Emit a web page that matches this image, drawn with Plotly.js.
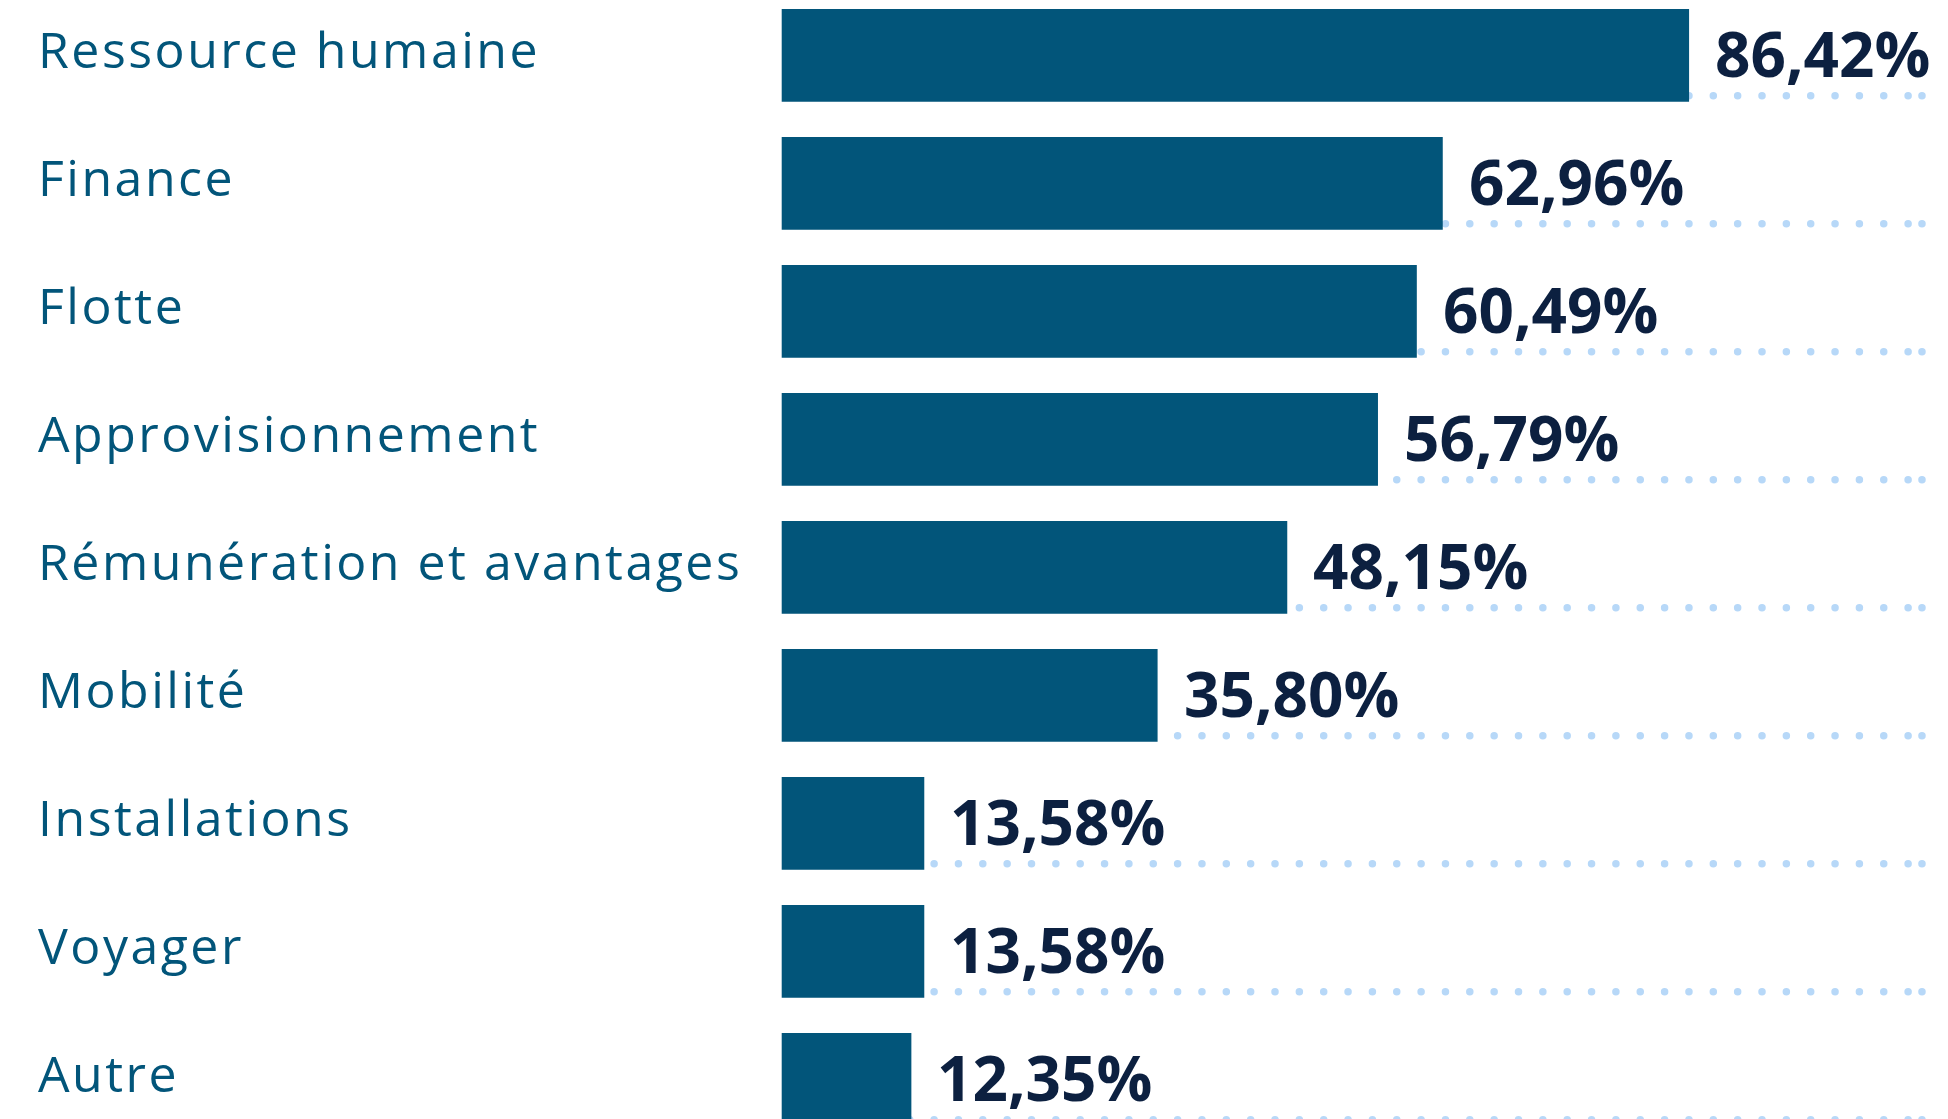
<!DOCTYPE html>
<html>
<head>
<meta charset="utf-8">
<script src="https://cdn.plot.ly/plotly-3.0.1.min.js"></script>
<style>
html, body { margin: 0; padding: 0; background: #ffffff; }
#chart { width: 1948px; height: 1119px; }
.shapelayer path { stroke-linecap: round; }
g.annotation[data-index="0"] text, g.annotation[data-index="1"] text, g.annotation[data-index="2"] text,
g.annotation[data-index="3"] text, g.annotation[data-index="4"] text, g.annotation[data-index="5"] text,
g.annotation[data-index="6"] text, g.annotation[data-index="7"] text, g.annotation[data-index="8"] text {
  letter-spacing: 2.5px;
}
</style>
</head>
<body>
<div id="chart"></div>
<script>
const categories = ["Ressource humaine", "Finance", "Flotte", "Approvisionnement", "Rémunération et avantages", "Mobilité", "Installations", "Voyager", "Autre"];
const values = [86.42, 62.96, 60.49, 56.79, 48.15, 35.80, 13.58, 13.58, 12.35];
const valueLabels = values.map(v => v.toFixed(2).replace('.', ',') + '%');

const barColor = '#02557a';
const labelColor = '#02557a';
const valueColor = '#0c2040';
const dotColor = '#b7d8f8';

const trace = {
  type: 'bar',
  orientation: 'h',
  x: values,
  y: categories,
  width: 0.724,
  marker: { color: barColor, line: { width: 0 } },
  hoverinfo: 'skip',
  showlegend: false
};

const labelAnnotations = categories.map(c => ({
  xref: 'paper', yref: 'y', x: 36 / 1948, y: c,
  xanchor: 'left', yanchor: 'middle', align: 'left', yshift: 6,
  text: c, showarrow: false,
  font: { family: 'Open Sans', size: 50, color: labelColor }
}));
const valueAnnotations = categories.map((c, i) => ({
  xref: 'x', yref: 'y', x: values[i], y: c,
  xanchor: 'left', yanchor: 'middle', align: 'left', xshift: 24, yshift: 2,
  text: valueLabels[i], showarrow: false,
  font: { family: 'Open Sans', size: 62, color: valueColor, weight: 700 }
}));

const shapes = [];
categories.forEach((c, i) => {
  shapes.push({
    type: 'line', layer: 'below', xref: 'x', yref: 'y',
    x0: 0.6, x1: 108.6, y0: i + 0.315, y1: i + 0.315,
    line: { color: dotColor, width: 7.5, dash: '0.01px,24.34px' }
  });
  shapes.push({
    type: 'line', layer: 'below', xref: 'x', yref: 'y',
    x0: 108.6, x1: 108.601, y0: i + 0.315, y1: i + 0.315,
    line: { color: dotColor, width: 7.5 }
  });
});

const layout = {
  width: 1948,
  height: 1119,
  margin: { l: 0, r: 0, t: 0, b: 0, pad: 0 },
  paper_bgcolor: '#ffffff',
  plot_bgcolor: '#ffffff',
  xaxis: { range: [-74.45, 111.08], visible: false, fixedrange: true },
  yaxis: { type: 'category', range: [8.3098, -0.4324], visible: false, fixedrange: true },
  annotations: labelAnnotations.concat(valueAnnotations),
  shapes: shapes,
  showlegend: false
};

Plotly.newPlot('chart', [trace], layout, { displayModeBar: false, staticPlot: true });
</script>
</body>
</html>
